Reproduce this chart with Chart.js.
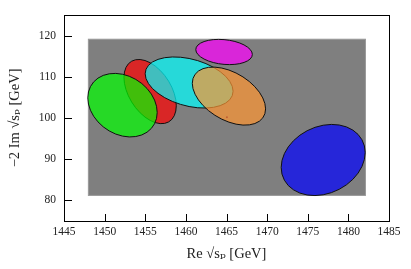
<!DOCTYPE html>
<html>
<head>
<meta charset="utf-8">
<script src="https://cdn.jsdelivr.net/npm/chart.js@4.4.0/dist/chart.umd.min.js"></script>
<style>
  html, body { margin: 0; padding: 0; background: #fff; }
  #wrap { width: 411px; height: 269px; }
</style>
</head>
<body>
<div id="wrap"><canvas id="c" width="411" height="269"></canvas></div>
<script>
// ---- data ----
const xTicks = [1445, 1450, 1455, 1460, 1465, 1470, 1475, 1480, 1485];
const yTicks = [80, 90, 100, 110, 120];

// shaded region
const regionX = [1448, 1482.1];
const regionY = [81.2, 119.1];

// ellipses (drawing order)
const ellipseNames = ['red', 'cyan', 'green', 'magenta', 'orange', 'blue'];
const ellipseCx    = [1455.6, 1460.4, 1452.2, 1464.7, 1465.3, 1476.9];
const ellipseCy    = [106.4, 108.6, 103.1, 116.0, 105.3, 89.8];
const ellipseHalfW = [3.22, 5.41, 4.27, 3.48, 4.51, 5.17];
const ellipseHalfH = [7.79, 6.20, 7.71, 3.06, 7.04, 8.63];
const ellipseRho   = [-0.44, -0.34, -0.23, -0.19, -0.44, 0.21];
const ellipseFill  = ['rgba(255,0,0,0.7)', 'rgba(0,255,255,0.7)', 'rgba(0,255,0,0.7)',
                      'rgba(255,0,255,0.7)', 'rgba(255,150,50,0.7)', 'rgba(0,0,255,0.7)'];

// small marker point
const markerX = [1465.05];
const markerY = [100.2];

const serif = "'Liberation Serif', 'DejaVu Serif', serif";

const shapesPlugin = {
  id: 'shapes',
  beforeDatasetsDraw(chart) {
    const ctx = chart.ctx, xs = chart.scales.x, ys = chart.scales.y, a = chart.chartArea;
    ctx.save();
    ctx.beginPath();
    ctx.rect(a.left, a.top, a.right - a.left, a.bottom - a.top);
    ctx.clip();
    const x0 = xs.getPixelForValue(regionX[0]), x1 = xs.getPixelForValue(regionX[1]);
    const y0 = ys.getPixelForValue(regionY[1]), y1 = ys.getPixelForValue(regionY[0]);
    ctx.fillStyle = '#7f7f7f';
    ctx.fillRect(x0, y0, x1 - x0, y1 - y0);
    ctx.strokeStyle = '#9a9a9a';
    ctx.lineWidth = 1;
    ctx.strokeRect(x0, y0, x1 - x0, y1 - y0);
    for (let i = 0; i < ellipseNames.length; i++) {
      const px = xs.getPixelForValue(ellipseCx[i]);
      const py = ys.getPixelForValue(ellipseCy[i]);
      const wp = Math.abs(xs.getPixelForValue(ellipseCx[i] + ellipseHalfW[i]) - px);
      const hp = Math.abs(ys.getPixelForValue(ellipseCy[i] + ellipseHalfH[i]) - py);
      const rs = -ellipseRho[i];
      ctx.save();
      ctx.beginPath();
      ctx.transform(wp, hp * rs, 0, hp * Math.sqrt(1 - rs * rs), px, py);
      ctx.arc(0, 0, 1, 0, Math.PI * 2);
      ctx.restore();
      ctx.fillStyle = ellipseFill[i];
      ctx.fill();
      ctx.strokeStyle = '#111';
      ctx.lineWidth = 1;
      ctx.stroke();
    }
    ctx.restore();
  },
  afterDraw(chart) {
    const ctx = chart.ctx, xs = chart.scales.x, ys = chart.scales.y, a = chart.chartArea;
    ctx.save();
    ctx.strokeStyle = '#000';
    ctx.lineWidth = 1;
    ctx.strokeRect(Math.round(a.left) + 0.5, Math.round(a.top) + 0.5,
                   Math.round(a.right - a.left), Math.round(a.bottom - a.top));
    ctx.beginPath();
    xTicks.forEach(v => {
      const p = Math.round(xs.getPixelForValue(v)) + 0.5;
      ctx.moveTo(p, a.bottom);
      ctx.lineTo(p, a.bottom - 7);
    });
    yTicks.forEach(v => {
      const p = Math.round(ys.getPixelForValue(v)) + 0.5;
      ctx.moveTo(a.left, p);
      ctx.lineTo(a.left + 8, p);
    });
    ctx.stroke();
    ctx.restore();
  }
};

new Chart(document.getElementById('c'), {
  type: 'scatter',
  data: {
    datasets: [{
      label: 'marker',
      data: markerX.map((x, i) => ({ x: x, y: markerY[i] })),
      pointRadius: 1,
      pointBackgroundColor: 'rgba(190,90,50,0.9)',
      pointBorderWidth: 0
    }]
  },
  options: {
    responsive: false,
    animation: false,
    devicePixelRatio: 1,
    layout: { padding: { left: 0, top: 13, right: 22, bottom: 0 } },
    plugins: { legend: { display: false }, tooltip: { enabled: false } },
    scales: {
      x: {
        type: 'linear', min: 1445, max: 1485,
        afterBuildTicks: s => { s.ticks = xTicks.map(v => ({ value: v })); },
        afterFit: s => { s.height = 48; },
        grid: { display: false, drawTicks: false },
        border: { display: false },
        ticks: { color: '#222', padding: 4, maxRotation: 0, autoSkip: false,
                 font: { family: serif, size: 11.5 }, callback: v => String(v) },
        title: { display: true, text: 'Re √sₚ [GeV]', color: '#222',
                 font: { family: serif, size: 14.5 }, padding: { top: 0, bottom: 6 } }
      },
      y: {
        type: 'linear', min: 75, max: 125,
        afterBuildTicks: s => { s.ticks = yTicks.map(v => ({ value: v })); },
        afterFit: s => { s.width = 64; },
        grid: { display: false, drawTicks: false },
        border: { display: false },
        ticks: { color: '#222', padding: 8, autoSkip: false,
                 font: { family: serif, size: 11.5 }, callback: v => String(v) },
        title: { display: true, text: '−2 Im √sₚ [GeV]', color: '#222',
                 font: { family: serif, size: 14.5 }, padding: { top: 6, bottom: 0 } }
      }
    }
  },
  plugins: [shapesPlugin]
});
</script>
</body>
</html>
